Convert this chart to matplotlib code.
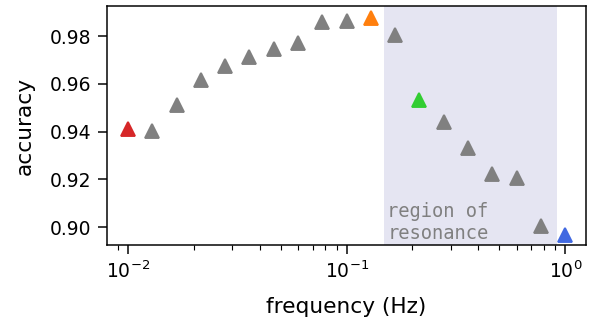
import matplotlib
matplotlib.use("Agg")
import matplotlib.pyplot as plt

freq = [0.01, 0.0129, 0.0167, 0.0215, 0.0278, 0.0359, 0.0464, 0.0599, 0.0774, 0.1,
        0.129, 0.167, 0.215, 0.278, 0.359, 0.464, 0.599, 0.774, 1.0]
acc = [0.9413, 0.9402, 0.9511, 0.9616, 0.9676, 0.9713, 0.9746, 0.9772, 0.9860, 0.9862,
       0.9875, 0.9804, 0.9532, 0.9441, 0.9330, 0.9222, 0.9204, 0.9004, 0.8967]
colors = ['#d62728'] + ['gray'] * 9 + ['#ff7f0e', 'gray', '#32cd32'] + ['gray'] * 5 + ['royalblue']
span = [0.149, 0.918]

dpi = 135
fig = plt.figure(figsize=(594 / dpi, 329 / dpi), dpi=dpi)
ax = fig.add_axes([0.180, 0.255, 0.807, 0.727])
ax.axvspan(span[0], span[1], color='navy', alpha=0.1, lw=0, zorder=0)
for f, a, c in zip(freq, acc, colors):
    ax.plot(f, a, marker='^', ms=7, color=c, ls='none', zorder=3)
ax.set_xscale('log')
ax.set_xlim(10 ** -2.096, 10 ** 0.096)
ax.set_ylim(0.8925, 0.9926)
ax.set_yticks([0.90, 0.92, 0.94, 0.96, 0.98])
ax.tick_params(which='major', length=4.8)
ax.tick_params(which='minor', length=2.6)
ax.set_xlabel('frequency (Hz)', fontsize=11.5, labelpad=8)
ax.set_ylabel('accuracy', fontsize=11.5, labelpad=8)
ax.text(span[0] * 1.03, 0.8935, 'region of\nresonance', family='DejaVu Sans Mono',
        color='gray', va='bottom', ha='left')
fig.savefig('out.png', dpi=dpi)
